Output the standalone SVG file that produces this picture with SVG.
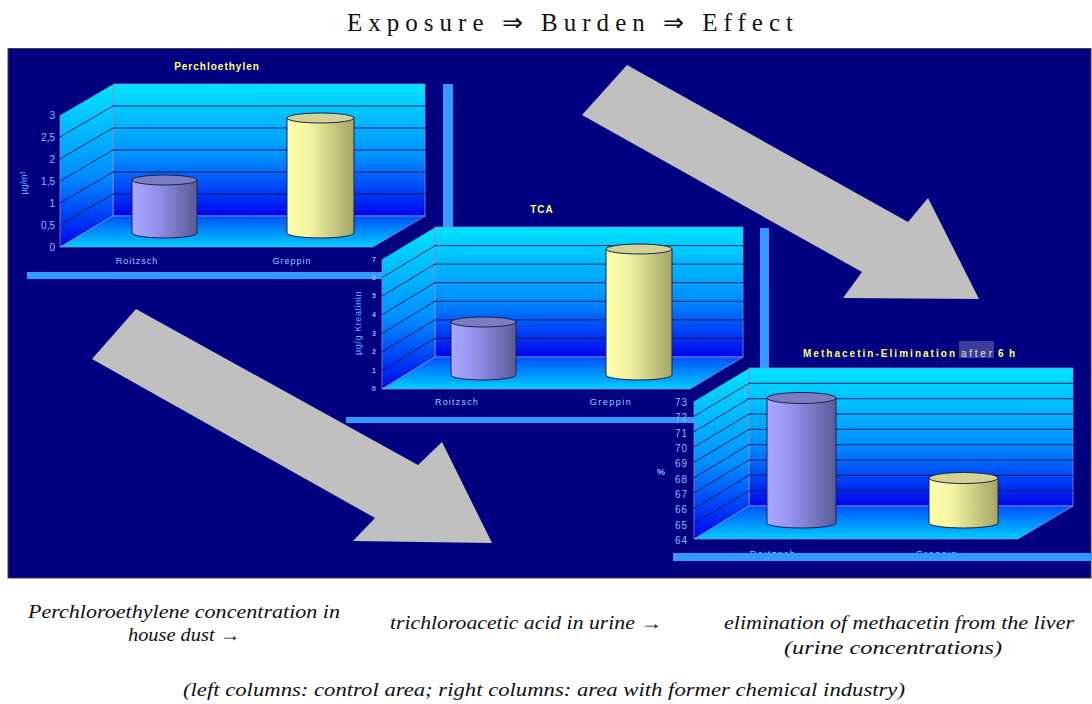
<svg xmlns="http://www.w3.org/2000/svg" width="1092" height="704" viewBox="0 0 1092 704">
<defs>
<linearGradient id="wall" x1="0" y1="0" x2="0" y2="1">
<stop offset="0" stop-color="#00E4FF"/>
<stop offset="0.55" stop-color="#0090FF"/>
<stop offset="1" stop-color="#0004EE"/>
</linearGradient>
<linearGradient id="floor" x1="0" y1="0" x2="0" y2="1">
<stop offset="0" stop-color="#0050FF"/>
<stop offset="1" stop-color="#00CCFF"/>
</linearGradient>
<linearGradient id="purple" x1="0" y1="0" x2="1" y2="0">
<stop offset="0" stop-color="#A8A8FF"/>
<stop offset="0.35" stop-color="#9494F0"/>
<stop offset="1" stop-color="#5A5A96"/>
</linearGradient>
<linearGradient id="yellow" x1="0" y1="0" x2="1" y2="0">
<stop offset="0" stop-color="#FFFFAA"/>
<stop offset="0.35" stop-color="#F2F2A0"/>
<stop offset="1" stop-color="#A4A466"/>
</linearGradient>
<style>
.wall{fill:url(#wall);stroke:#8C8CC8;stroke-width:0.8}
.floor{fill:url(#floor);stroke:#8C8CC8;stroke-width:0.8}
.grid{stroke:#101050;stroke-width:0.9;fill:none}
.cyl{stroke:#20204A;stroke-width:1}
.ptop{fill:#7C7CC0;stroke:#20204A;stroke-width:1}
.ytop{fill:#D2D294;stroke:#20204A;stroke-width:1}
.bar{fill:#3399FF}
.tick{font-family:"Liberation Sans",Arial,sans-serif;font-size:10px;fill:#8CBCFF;text-anchor:end}
.tick2{font-family:"Liberation Sans",Arial,sans-serif;font-size:7px;font-weight:bold;fill:#8CBCFF;text-anchor:end}
.cat{font-family:"Liberation Sans",Arial,sans-serif;font-size:9px;fill:#99CCFF;text-anchor:middle}
.ttl{font-family:"Liberation Sans",Arial,sans-serif;font-size:10px;font-weight:bold;fill:#FFFF70}
.ax{font-family:"Liberation Sans",Arial,sans-serif;font-size:9px;fill:#66AAFF;text-anchor:middle}
.cap{font-family:"Liberation Serif","Times New Roman",serif;font-style:italic;font-size:18px;fill:#111}
.arrow{fill:#C0C0C0}
</style>
</defs>
<rect x="0" y="0" width="1092" height="704" fill="#FFFFFF"/>
<text x="347" y="31" font-family="Liberation Serif,'Times New Roman',serif" font-size="25" fill="#111" textLength="446" lengthAdjust="spacing">Exposure ⇒  Burden ⇒ Effect</text>
<rect x="8" y="48.5" width="1083" height="529.5" fill="#000080" stroke="#404040" stroke-width="1"/>

<g id="connectors">
<polygon class="arrow" points="627,65 908,222 928,198 979,299 843,298 862,272 582,115"/>
<polygon class="arrow" points="136,309 418,465 442,442 492,543 353,541 375,518 92,359"/>
</g>

<g id="chart-perchloethylen">
<rect class="bar" x="443" y="84" width="10" height="195"/>
<rect class="bar" x="27" y="272" width="426" height="7"/>
<text class="ttl" x="217" y="70" text-anchor="middle" letter-spacing="1">Perchloethylen</text>
<rect class="wall" x="113" y="84" width="312" height="132"/>
<polygon class="wall" points="60,247 113,216 113,84 60,115"/>
<polygon class="floor" points="60,247 373,247 425,216 113,216"/>
<path class="grid" d="M113,194H425M113,172H425M113,150H425M113,128H425M113,106H425M60,225L113,194M60,203L113,172M60,181L113,150M60,159L113,128M60,137L113,106M60,115L113,84"/>
<text class="tick" x="55" y="251">0</text>
<text class="tick" x="55" y="229">0,5</text>
<text class="tick" x="55" y="207">1</text>
<text class="tick" x="55" y="185">1,5</text>
<text class="tick" x="55" y="163">2</text>
<text class="tick" x="55" y="141">2,5</text>
<text class="tick" x="55" y="119">3</text>
<text class="ax" transform="translate(27,183) rotate(-90)">µg/m³</text>
<path class="cyl" fill="url(#purple)" d="M132,180V233A32.5,5 0 0 0 197,233V180Z"/>
<ellipse class="ptop" cx="164.5" cy="180" rx="32.5" ry="5"/>
<path class="cyl" fill="url(#yellow)" d="M287,118V233A33.5,5 0 0 0 354,233V118Z"/>
<ellipse class="ytop" cx="320.5" cy="118" rx="33.5" ry="5"/>
<text class="cat" x="137" y="264" letter-spacing="1">Roitzsch</text>
<text class="cat" x="292" y="264" letter-spacing="1">Greppin</text>
</g>

<g id="chart-tca">
<rect class="bar" x="760" y="228" width="9" height="195"/>
<rect class="bar" x="346" y="417" width="423" height="6"/>
<text class="ttl" x="542" y="213" text-anchor="middle" letter-spacing="1">TCA</text>
<rect class="wall" x="435" y="227" width="308" height="130"/>
<polygon class="wall" points="382,389 435,357 435,227 382,259"/>
<polygon class="floor" points="382,389 690,389 743,357 435,357"/>
<path class="grid" d="M435,338.4H743M435,319.9H743M435,301.3H743M435,282.7H743M435,264.1H743M435,245.6H743M382,370.4L435,338.4M382,351.9L435,319.9M382,333.3L435,301.3M382,314.7L435,282.7M382,296.1L435,264.1M382,277.6L435,245.6M382,259L435,227"/>
<text class="tick2" x="376" y="391">0</text>
<text class="tick2" x="376" y="372.5">1</text>
<text class="tick2" x="376" y="354">2</text>
<text class="tick2" x="376" y="335.5">3</text>
<text class="tick2" x="376" y="317">4</text>
<text class="tick2" x="376" y="298">5</text>
<text class="tick2" x="376" y="280">6</text>
<text class="tick2" x="376" y="261.5">7</text>
<text class="ax" transform="translate(361,323) rotate(-90)" letter-spacing="0.6">µg/g Kreatinin</text>
<path class="cyl" fill="url(#purple)" d="M451,322V375A32.5,5 0 0 0 516,375V322Z"/>
<ellipse class="ptop" cx="483.5" cy="322" rx="32.5" ry="5"/>
<path class="cyl" fill="url(#yellow)" d="M606,249V375A33,5 0 0 0 672,375V249Z"/>
<ellipse class="ytop" cx="639" cy="249" rx="33" ry="5"/>
<text class="cat" x="457" y="405" letter-spacing="1.2">Roitzsch</text>
<text class="cat" x="611" y="405" letter-spacing="1.5">Greppin</text>
</g>

<g id="chart-methacetin">
<text class="ttl" x="803" y="357" textLength="152" lengthAdjust="spacing">Methacetin-Elimination</text>
<rect x="959" y="341" width="35" height="17" fill="#3C3C9C"/>
<text x="961" y="357" font-family="Liberation Sans,Arial,sans-serif" font-size="10" fill="#E4E4A8" textLength="31" lengthAdjust="spacing">after</text>
<text class="ttl" x="998" y="357" textLength="17" lengthAdjust="spacing">6 h</text>
<rect class="wall" x="749" y="368" width="324" height="138"/>
<polygon class="wall" points="694,539 749,506 749,368 694,401"/>
<polygon class="floor" points="694,539 1018,539 1073,506 749,506"/>
<path class="grid" d="M749,490.7H1073M749,475.3H1073M749,460H1073M749,444.7H1073M749,429.3H1073M749,414H1073M749,398.7H1073M749,383.3H1073M694,523.7L749,490.7M694,508.3L749,475.3M694,493L749,460M694,477.7L749,444.7M694,462.3L749,429.3M694,447L749,414M694,431.7L749,398.7M694,416.3L749,383.3M694,401L749,368"/>
<text class="tick" x="688" y="544" letter-spacing="1">64</text>
<text class="tick" x="688" y="528.7" letter-spacing="1">65</text>
<text class="tick" x="688" y="513.3" letter-spacing="1">66</text>
<text class="tick" x="688" y="498" letter-spacing="1">67</text>
<text class="tick" x="688" y="482.7" letter-spacing="1">68</text>
<text class="tick" x="688" y="467.3" letter-spacing="1">69</text>
<text class="tick" x="688" y="452" letter-spacing="1">70</text>
<text class="tick" x="688" y="436.7" letter-spacing="1">71</text>
<text class="tick" x="688" y="421.3" letter-spacing="1">72</text>
<text class="tick" x="688" y="406" letter-spacing="1">73</text>
<text x="661" y="475" font-family="Liberation Sans,Arial,sans-serif" font-size="9" font-weight="bold" fill="#8CBCFF" text-anchor="middle">%</text>
<path class="cyl" fill="url(#purple)" d="M767,398V523A34.5,5 0 0 0 836,523V398Z"/>
<ellipse class="ptop" cx="801.5" cy="398" rx="34.5" ry="5.5"/>
<path class="cyl" fill="url(#yellow)" d="M929,478V523A34.5,5 0 0 0 998,523V478Z"/>
<ellipse class="ytop" cx="963.5" cy="478" rx="34.5" ry="5.5"/>
<text class="cat" x="773" y="557" letter-spacing="1.5">Roitzsch</text>
<text class="cat" x="937" y="557" letter-spacing="1.5">Greppin</text>
<rect class="bar" x="673" y="553" width="419" height="8"/>
</g>

<g id="captions">
<text class="cap" x="28" y="618" textLength="312" lengthAdjust="spacingAndGlyphs">Perchloroethylene concentration in</text>
<text class="cap" x="128" y="641" textLength="112" lengthAdjust="spacingAndGlyphs">house dust →</text>
<text class="cap" x="390" y="629" textLength="272" lengthAdjust="spacingAndGlyphs">trichloroacetic acid in urine →</text>
<text class="cap" x="724" y="629" textLength="350" lengthAdjust="spacingAndGlyphs">elimination of methacetin from the liver</text>
<text class="cap" x="784" y="654" textLength="218" lengthAdjust="spacingAndGlyphs">(urine concentrations)</text>
<text class="cap" x="183" y="696" textLength="722" lengthAdjust="spacingAndGlyphs">(left columns: control area; right columns: area with former chemical industry)</text>
</g>
</svg>
